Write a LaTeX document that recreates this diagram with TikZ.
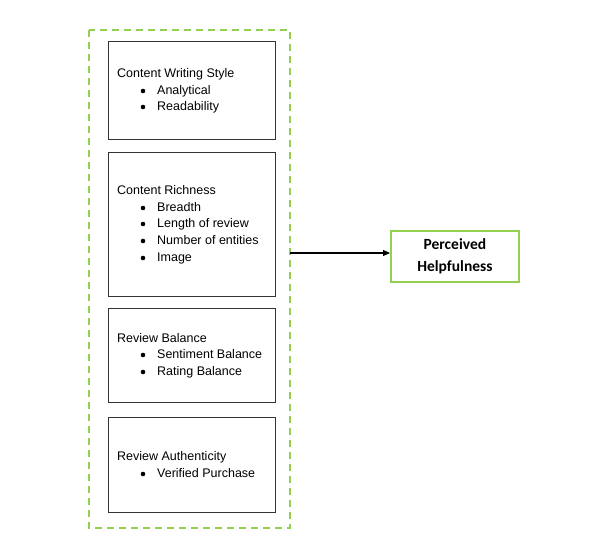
\documentclass[tikz,border=0pt]{standalone}
\usepackage{fontspec}
\setmainfont{Liberation Sans}
\newfontfamily\boldf{Carlito}
\usetikzlibrary{arrows.meta}
\definecolor{lgreen}{RGB}{146,208,80}
\begin{document}
\begin{tikzpicture}[x=1pt,y=-1pt,
  box/.style={draw=black!80,line width=1.1pt},
  txt/.style={anchor=west,inner sep=0pt,text height=8.5pt,text depth=2.5pt,font=\fontsize{12.5}{14}\selectfont},
  bul/.style={anchor=center,inner sep=0pt,fill=black,circle,minimum size=4.6pt}]
\useasboundingbox (0,0) rectangle (592,550);
\fill[white] (0,0) rectangle (592,550);
\draw[lgreen,line width=1.6pt,dash pattern=on 7pt off 5pt] (89,30) rectangle (290,528);
\node[box,minimum width=167pt,minimum height=98pt,anchor=north west] (b1) at (108,41) {};
\node[box,minimum width=167pt,minimum height=144pt,anchor=north west] (b2) at (108,152) {};
\node[box,minimum width=167pt,minimum height=94pt,anchor=north west] (b3) at (108,308) {};
\node[box,minimum width=167pt,minimum height=95pt,anchor=north west] (b4) at (108,417) {};
\coordinate (gr) at (290,253);
\node[draw=lgreen,line width=1.8pt,minimum width=128pt,minimum height=51pt,anchor=north west,align=center,inner sep=0pt,font=\boldf\bfseries\fontsize{15.5}{22}\selectfont] (ph) at (390,230) {Perceived\\Helpfulness};
\draw[-{Triangle[length=7pt,width=6pt]},line width=1.1pt] (gr) -- (gr -| ph.west);
% box 1
\node[txt] (t11) at (117,74) {Content Writing Style};
\node[bul] (d12) at (143,91) {}; \node[txt] (t12) at (157,91) {Analytical};
\node[bul] (d13) at (143,107) {}; \node[txt] (t13) at (157,107) {Readability};
% box 2
\node[txt] (t21) at (117,191) {Content Richness};
\node[bul] (d22) at (143,208) {}; \node[txt] (t22) at (157,208) {Breadth};
\node[bul] (d23) at (143,224) {}; \node[txt] (t23) at (157,224) {Length of review};
\node[bul] (d24) at (143,241) {}; \node[txt] (t24) at (157,241) {Number of entities};
\node[bul] (d25) at (143,258) {}; \node[txt] (t25) at (157,258) {Image};
% box 3
\node[txt] (t31) at (117,339) {Review Balance};
\node[bul] (d32) at (143,355) {}; \node[txt] (t32) at (157,355) {Sentiment Balance};
\node[bul] (d33) at (143,372) {}; \node[txt] (t33) at (157,372) {Rating Balance};
% box 4
\node[txt] (t41) at (117,457) {Review Authenticity};
\node[bul] (d42) at (143,474) {}; \node[txt] (t42) at (157,474) {Verified Purchase};
\end{tikzpicture}
\end{document}
